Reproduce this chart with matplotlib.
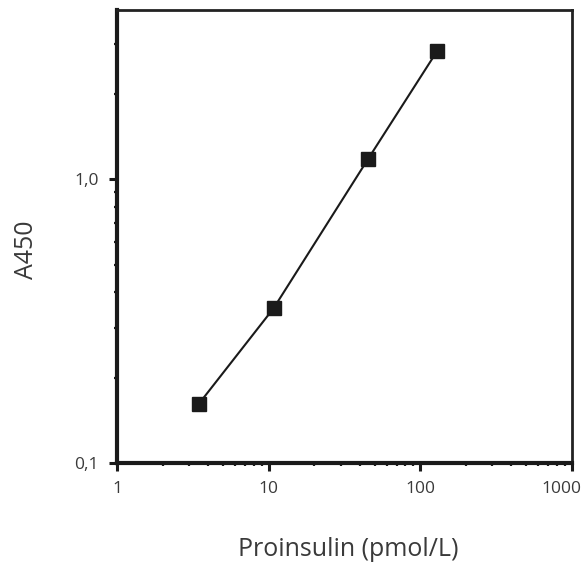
import matplotlib.pyplot as plt
from matplotlib.ticker import FixedLocator, LogLocator, NullFormatter
from matplotlib.transforms import ScaledTranslation

plt.rcParams['font.family'] = ['Open Sans', 'DejaVu Sans']

# data
proinsulin = [3.45, 10.8, 45.2, 129.0]
a450 = [0.161, 0.351, 1.175, 2.82]

y_ticks = [0.1, 1.0]
y_tick_labels = ['0,1', '1,0']
x_ticks = [1, 10, 100, 1000]
x_tick_labels = ['1', '10', '100', '1000']

text_color = '#3a3a3a'
ink = '#1a1a1a'

fig = plt.figure(figsize=(5.84, 5.66), dpi=100)
ax = fig.add_axes([0.2003, 0.182, 0.7787, 0.800])

ax.plot(proinsulin, a450, color=ink, linewidth=1.5,
        marker='s', markersize=10, markerfacecolor=ink,
        markeredgecolor=ink)

ax.set_xscale('log')
ax.set_yscale('log')
ax.set_xlim(1, 1000)
ax.set_ylim(0.1, 3.94)

ax.xaxis.set_major_locator(FixedLocator(x_ticks))
ax.set_xticklabels(x_tick_labels)
ax.yaxis.set_major_locator(FixedLocator(y_ticks))
ax.set_yticklabels(y_tick_labels)
ax.xaxis.set_minor_locator(LogLocator(base=10, subs=range(2, 10)))
ax.yaxis.set_minor_locator(LogLocator(base=10, subs=range(2, 10)))
ax.xaxis.set_minor_formatter(NullFormatter())
ax.yaxis.set_minor_formatter(NullFormatter())

ax.tick_params(which='major', direction='out', length=6, width=2.2,
               colors=ink, labelcolor=text_color, labelsize=12.5, pad=7)
ax.tick_params(which='minor', direction='out', length=2.5, width=1.6,
               colors=ink)

# last x label sits a little left of its tick so it stays on the canvas
last = ax.get_xticklabels()[-1]
last.set_transform(last.get_transform() +
                   ScaledTranslation(-0.1, 0, fig.dpi_scale_trans))

for side in ['left', 'bottom']:
    ax.spines[side].set_linewidth(3)
    ax.spines[side].set_color(ink)
for side in ['top', 'right']:
    ax.spines[side].set_linewidth(2)
    ax.spines[side].set_color('#222222')

ax.set_xlabel('Proinsulin (pmol/L)', fontsize=18, color=text_color, va='center')
ax.xaxis.set_label_coords(0.508, -0.192)
ax.set_ylabel('A450', fontsize=18, color=text_color, va='center')
ax.yaxis.set_label_coords(-0.198, 0.47)

fig.savefig('out.png', dpi=100)
